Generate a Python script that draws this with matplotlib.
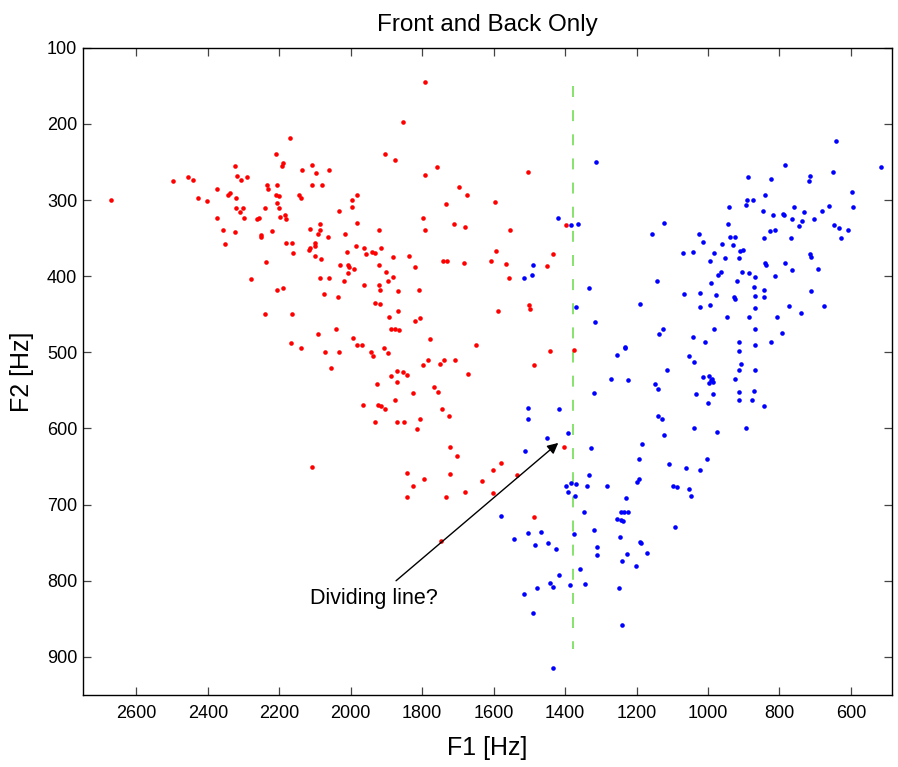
import matplotlib
matplotlib.use('Agg')
import matplotlib.pyplot as plt
import matplotlib as mpl
import numpy as np

# colours
red = '#ff0000'
blue = '#0000ff'
div_green = '#66dd44'
tick_grey = '#444444'

mpl.rcParams.update({
    'font.family': ['Liberation Sans', 'DejaVu Sans'],
    'axes.linewidth': 1.0,
    'xtick.direction': 'in',
    'ytick.direction': 'in',
    'xtick.top': True,
    'ytick.right': True,
    'xtick.major.size': 5.5,
    'ytick.major.size': 5.5,
    'xtick.major.width': 0.9,
    'ytick.major.width': 0.9,
    'xtick.color': tick_grey,
    'ytick.color': tick_grey,
    'xtick.labelcolor': 'black',
    'ytick.labelcolor': 'black',
    'xtick.labelsize': 13,
    'ytick.labelsize': 13,
})

# front vowels (red): F1 [Hz], F2 [Hz]
front_f1 = [
    2671, 2496, 2454, 2442, 2428, 2403, 2374, 2375, 2356, 2353, 2344, 2339, 2324, 2319,
    2321, 2308, 2291, 2321, 2309, 2302, 2298, 2324, 2262, 2257, 2251, 2251, 2241, 2237,
    2234, 2232, 2220, 2209, 2192, 2189, 2205, 2209, 2201, 2206, 2202, 2197, 2184, 2181,
    2180, 2165, 2161, 2170, 2280, 2205, 2189,
    1791, 1853, 1904, 1876, 1758, 1792, 2108, 2137, 2096, 2061, 2108, 2081, 2145, 2138,
    1997, 1981, 1996, 2034, 2085, 2086, 2115, 2092, 1981, 2016, 2063, 2099, 2101, 2113,
    2117, 2100, 2083, 2010, 1986, 1963, 1958, 1940, 1931, 1914, 1922, 1882, 1837, 2031,
    2008, 2004, 1991, 2007, 1920, 1820, 1902, 1881, 1896, 2085, 2060, 2019, 1962, 1920,
    1918, 1868, 1809, 2074, 2035, 1797, 1792, 1732, 1696, 1674, 1711, 1681, 1596, 1592,
    1742, 1731, 1683, 1607,
    1505, 1398, 1554, 1565, 1558, 1434, 1450,
    2241, 2165, 2168,
    1931, 1917, 1867, 1893, 1819, 1806, 2092, 2042, 1993, 1981, 1969, 2138, 2071, 2033,
    1944, 1937, 1907, 1895, 1886, 1876, 1865, 1778, 1648, 2055, 1783, 1797, 1751, 1739,
    1707, 1672, 1887, 1869, 1854, 1841, 1925, 1870, 1766, 1755, 1825, 1876, 1966, 1923,
    1914, 1904, 1745, 1726, 1931, 1871, 1850, 1805, 1813, 1722, 1703, 2109, 1841, 1722,
    1601, 1794, 1826, 1633, 1681, 1603, 1841, 1732,
    1588, 1501, 1499, 1443, 1376, 1488, 1403, 1579, 1534, 1488,
    1748,
]
front_f2 = [
    300, 275, 270, 274, 297, 301, 285, 323, 340, 358, 294, 291, 255, 268,
    298, 274, 270, 311, 316, 310, 324, 342, 325, 324, 346, 349, 310, 381,
    280, 286, 341, 239, 255, 251, 280, 294, 295, 304, 311, 322, 320, 325,
    357, 356, 369, 219, 404, 418, 416,
    145, 198, 240, 248, 256, 267, 254, 261, 264, 260, 280, 280, 293, 298,
    300, 294, 309, 315, 332, 339, 338, 344, 330, 345, 349, 356, 360, 363,
    365, 373, 378, 368, 360, 363, 371, 368, 370, 363, 340, 375, 373, 385,
    386, 388, 390, 396, 385, 388, 395, 401, 406, 403, 403, 407, 411, 411,
    418, 419, 418, 423, 428, 323, 340, 305, 283, 293, 331, 336, 303, 367,
    380, 380, 383, 380,
    263, 333, 340, 384, 403, 371, 387,
    450, 450, 488,
    435, 437, 446, 454, 459, 455, 476, 470, 481, 490, 490, 494, 500, 499,
    499, 505, 494, 501, 470, 470, 471, 483, 491, 520, 510, 517, 516, 510,
    510, 529, 531, 525, 526, 530, 541, 539, 545, 552, 554, 562, 569, 569,
    570, 574, 575, 583, 591, 591, 591, 588, 601, 625, 636, 650, 658, 660,
    655, 666, 675, 669, 684, 685, 690, 690,
    446, 438, 443, 498, 497, 517, 624, 645, 661, 716,
    748,
]

# back vowels (blue): F1 [Hz], F2 [Hz]
back_f1 = [
    1312, 1420, 1382, 1364, 1490, 1493, 1515, 1333, 1158, 1123, 1069, 1043, 1025, 1014,
    1142, 1067, 1021,
    641, 516, 785, 887, 823, 714, 718, 651, 598, 593, 841, 890, 873, 893, 941, 845, 817,
    790, 786, 760, 731, 681, 662, 764, 738, 704, 746, 648, 632, 608, 629, 944, 939, 925,
    827, 813, 843, 769, 961, 929, 984, 910, 901, 995, 953, 914, 841, 837, 785, 714, 713,
    693, 765, 972, 963, 905, 885, 868, 813, 992, 920, 870, 844, 978, 926, 923, 868, 843,
    713,
    1022, 993, 868, 772, 676, 947, 885, 806, 740, 983, 867, 794, 1008, 914, 867, 825,
    913, 908, 913, 868, 1014, 997, 988, 996, 985, 992, 925, 914, 871, 987, 1001, 913,
    877, 843, 894, 974, 1003, 1022,
    1368, 1316, 1191, 1127, 1136, 1041, 1233, 1232, 1254, 1053, 1038, 1115, 1272, 1224,
    1147, 1139, 1033, 1318, 1503, 1417, 1503, 1141, 1130, 1038, 1124, 1393, 1451, 1328,
    1184, 1193, 1512, 1109, 1061, 1333, 1397, 1382, 1368, 1392, 1338, 1283, 1200, 1193,
    1098, 1086, 1053, 1048, 1372, 1230, 1348, 1243, 1236, 1224, 1254, 1243, 1238, 1580,
    1092, 1542, 1504, 1468, 1375, 1320, 1246, 1485, 1448, 1424, 1311, 1311, 1190, 1187,
    1172, 1227, 1242, 1202, 1357, 1418, 1442, 1433, 1387, 1345, 1479, 1248, 1516, 1489,
    1240, 1434,
]
back_f2 = [
    250, 323, 333, 332, 385, 398, 402, 415, 345, 330, 370, 368, 344, 355,
    406, 423, 422,
    223, 257, 254, 270, 273, 268, 275, 263, 290, 309, 294, 300, 300, 306, 309, 314, 320,
    318, 320, 309, 316, 315, 308, 325, 328, 325, 334, 333, 337, 340, 350, 331, 348, 348,
    341, 339, 350, 350, 358, 359, 369, 367, 365, 380, 376, 376, 383, 385, 383, 371, 375,
    390, 392, 399, 395, 394, 396, 401, 400, 409, 407, 414, 418, 425, 427, 430, 426, 427,
    420,
    440, 438, 442, 439, 439, 453, 453, 453, 449, 470, 470, 475, 486, 487, 490, 487,
    498, 515, 523, 523, 533, 531, 535, 540, 539, 537, 535, 552, 551, 555, 566, 563,
    563, 570, 599, 604, 640, 655,
    441, 460, 437, 469, 476, 480, 493, 495, 504, 505, 513, 523, 535, 537,
    542, 548, 555, 553, 573, 574, 587, 583, 588, 599, 608, 606, 613, 626,
    621, 640, 630, 647, 652, 661, 676, 672, 673, 683, 676, 675, 670, 667,
    676, 677, 679, 689, 689, 691, 710, 710, 710, 710, 719, 720, 722, 715,
    730, 745, 737, 736, 738, 734, 743, 753, 751, 758, 756, 766, 749, 750,
    764, 765, 774, 780, 785, 793, 803, 808, 805, 804, 809, 810, 818, 843,
    858, 915,
]

# proposed dividing line and annotation
divide_f1 = 1378
divide_f2 = (150, 890)
arrow_tip = (1419, 619)
arrow_tail = (1873, 800)
label_pos = (1934, 823)

x_ticks = np.arange(600, 2601, 200)
y_ticks = np.arange(100, 901, 100)

fig = plt.figure(figsize=(8.98, 7.67), dpi=100)
ax = fig.add_axes([0.0921, 0.0939, 0.9012, 0.8439])

ax.plot(front_f1, front_f2, 'o', color=red, markersize=3.3, markeredgewidth=0, zorder=3)
ax.plot(back_f1, back_f2, 'o', color=blue, markersize=3.3, markeredgewidth=0, zorder=3)

ax.plot([divide_f1, divide_f1], divide_f2, color=div_green, linewidth=1.1,
        dashes=(7.2, 8.6), zorder=2)

ax.annotate('', xy=arrow_tip, xytext=arrow_tail,
            arrowprops=dict(arrowstyle='-|>', color='black', lw=1.0,
                            mutation_scale=16, shrinkA=0, shrinkB=0),
            zorder=4)
ax.text(label_pos[0], label_pos[1], 'Dividing line?', fontsize=15.5,
        ha='center', va='center')

ax.set_xlim(2750, 485)
ax.set_ylim(950, 100)
ax.set_xticks(x_ticks)
ax.set_yticks(y_ticks)
ax.tick_params(axis='x', pad=7)
ax.tick_params(axis='y', pad=4)

ax.set_title('Front and Back Only', fontsize=17.5, pad=12)
ax.set_xlabel('F1 [Hz]', fontsize=18, va='center')
ax.xaxis.set_label_coords(0.5, -0.082)
ax.set_ylabel('F2 [Hz]', fontsize=18, va='center')
ax.yaxis.set_label_coords(-0.075, 0.5)

fig.savefig('out.png', dpi=100, facecolor='white')
